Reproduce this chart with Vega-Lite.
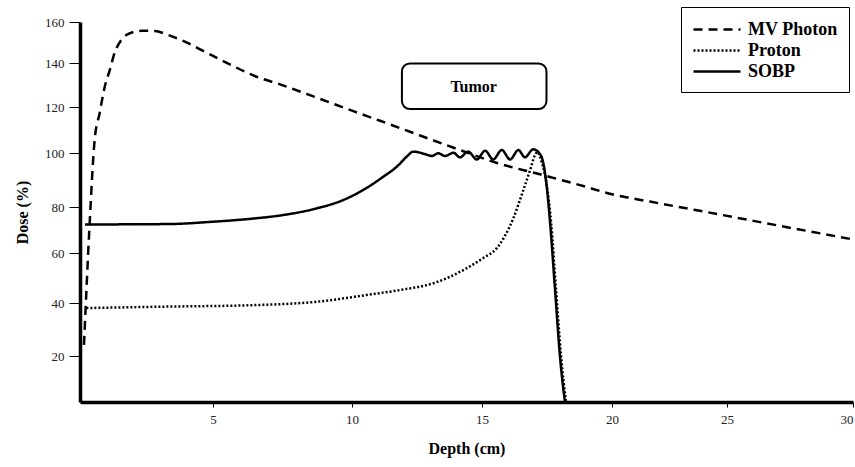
{
  "$schema": "https://vega.github.io/schema/vega-lite/v6.json",
  "width": 773,
  "height": 380,
  "autosize": "none",
  "padding": {"left": 80, "top": 22, "right": 2, "bottom": 65},
  "background": "white",
  "config": {
    "view": {"stroke": null},
    "font": "Liberation Serif",
    "axis": {
      "grid": false,
      "domainColor": "black",
      "domainWidth": 3.5,
      "tickColor": "black",
      "tickWidth": 1,
      "labelFont": "Liberation Serif",
      "labelFontSize": 13,
      "labelColor": "#222222",
      "titleFont": "Liberation Serif",
      "titleFontSize": 16,
      "titleFontWeight": "bold",
      "titleColor": "black"
    },
    "legend": {
      "orient": "none",
      "legendX": 601,
      "legendY": -15,
      "strokeColor": "black",
      "padding": 11,
      "symbolType": "M-1,0H3.7",
      "symbolSize": 400,
      "symbolStrokeWidth": 2.5,
      "symbolStrokeColor": "black",
      "symbolFillColor": "transparent",
      "labelOffset": 33,
      "rowPadding": 0,
      "labelFont": "Liberation Serif",
      "labelFontSize": 18,
      "labelFontWeight": "bold",
      "labelColor": "black",
      "title": null
    }
  },
  "datasets": {
    "curves": [
      {"series": "MV Photon", "depth": 0.15, "dose": 24.2},
      {"series": "MV Photon", "depth": 0.36, "dose": 72.2},
      {"series": "MV Photon", "depth": 0.55, "dose": 105.7},
      {"series": "MV Photon", "depth": 0.74, "dose": 117.4},
      {"series": "MV Photon", "depth": 0.93, "dose": 129.2},
      {"series": "MV Photon", "depth": 1.12, "dose": 136.8},
      {"series": "MV Photon", "depth": 1.3, "dose": 144.9},
      {"series": "MV Photon", "depth": 1.55, "dose": 151.2},
      {"series": "MV Photon", "depth": 1.8, "dose": 154.1},
      {"series": "MV Photon", "depth": 2.3, "dose": 155.7},
      {"series": "MV Photon", "depth": 2.81, "dose": 155.6},
      {"series": "MV Photon", "depth": 3.31, "dose": 153.7},
      {"series": "MV Photon", "depth": 3.94, "dose": 150.4},
      {"series": "MV Photon", "depth": 4.69, "dose": 145.5},
      {"series": "MV Photon", "depth": 5.42, "dose": 140.6},
      {"series": "MV Photon", "depth": 6.5, "dose": 134.1},
      {"series": "MV Photon", "depth": 7.41, "dose": 130.3},
      {"series": "MV Photon", "depth": 8.85, "dose": 123.7},
      {"series": "MV Photon", "depth": 10.0, "dose": 118.4},
      {"series": "MV Photon", "depth": 11.08, "dose": 114.0},
      {"series": "MV Photon", "depth": 12.62, "dose": 107.6},
      {"series": "MV Photon", "depth": 14.15, "dose": 101.3},
      {"series": "MV Photon", "depth": 15.58, "dose": 96.3},
      {"series": "MV Photon", "depth": 17.23, "dose": 92.1},
      {"series": "MV Photon", "depth": 18.77, "dose": 88.1},
      {"series": "MV Photon", "depth": 20.0, "dose": 84.7},
      {"series": "MV Photon", "depth": 21.65, "dose": 82.0},
      {"series": "MV Photon", "depth": 24.7, "dose": 76.7},
      {"series": "MV Photon", "depth": 27.1, "dose": 71.8},
      {"series": "MV Photon", "depth": 30, "dose": 65.9},

      {"series": "Proton", "depth": 0.24, "dose": 38.1},
      {"series": "Proton", "depth": 3.0, "dose": 38.6},
      {"series": "Proton", "depth": 6.5, "dose": 39.2},
      {"series": "Proton", "depth": 8.73, "dose": 40.5},
      {"series": "Proton", "depth": 10.56, "dose": 43.2},
      {"series": "Proton", "depth": 11.85, "dose": 45.2},
      {"series": "Proton", "depth": 13.13, "dose": 47.9},
      {"series": "Proton", "depth": 14.41, "dose": 53.9},
      {"series": "Proton", "depth": 15.05, "dose": 58.0},
      {"series": "Proton", "depth": 15.56, "dose": 62.0},
      {"series": "Proton", "depth": 16.2, "dose": 75.0},
      {"series": "Proton", "depth": 16.58, "dose": 86.0},
      {"series": "Proton", "depth": 16.85, "dose": 93.7},
      {"series": "Proton", "depth": 17.04, "dose": 99.3},
      {"series": "Proton", "depth": 17.13, "dose": 100.4},
      {"series": "Proton", "depth": 17.3, "dose": 96.5},
      {"series": "Proton", "depth": 17.5, "dose": 87.5},
      {"series": "Proton", "depth": 17.66, "dose": 73.0},
      {"series": "Proton", "depth": 17.85, "dose": 45.0},
      {"series": "Proton", "depth": 18.04, "dose": 20.0},
      {"series": "Proton", "depth": 18.23, "dose": 0},

      {"series": "SOBP", "depth": 0.19, "dose": 72.4},
      {"series": "SOBP", "depth": 3.38, "dose": 72.6},
      {"series": "SOBP", "depth": 5.0, "dose": 73.6},
      {"series": "SOBP", "depth": 6.3, "dose": 74.8},
      {"series": "SOBP", "depth": 7.52, "dose": 76.5},
      {"series": "SOBP", "depth": 8.73, "dose": 79.4},
      {"series": "SOBP", "depth": 9.69, "dose": 82.6},
      {"series": "SOBP", "depth": 10.43, "dose": 86.3},
      {"series": "SOBP", "depth": 11.2, "dose": 91.2},
      {"series": "SOBP", "depth": 11.72, "dose": 94.9},
      {"series": "SOBP", "depth": 12.1, "dose": 98.6},
      {"series": "SOBP", "depth": 12.36, "dose": 100.6},
      {"series": "SOBP", "depth": 12.81, "dose": 99.6},
      {"series": "SOBP", "depth": 13.07, "dose": 98.9},
      {"series": "SOBP", "depth": 13.32, "dose": 99.9},
      {"series": "SOBP", "depth": 13.58, "dose": 98.9},
      {"series": "SOBP", "depth": 13.9, "dose": 100.1},
      {"series": "SOBP", "depth": 14.15, "dose": 98.4},
      {"series": "SOBP", "depth": 14.47, "dose": 100.6},
      {"series": "SOBP", "depth": 14.8, "dose": 97.6},
      {"series": "SOBP", "depth": 15.12, "dose": 101.0},
      {"series": "SOBP", "depth": 15.43, "dose": 97.6},
      {"series": "SOBP", "depth": 15.76, "dose": 101.3},
      {"series": "SOBP", "depth": 16.08, "dose": 97.6},
      {"series": "SOBP", "depth": 16.4, "dose": 101.3},
      {"series": "SOBP", "depth": 16.65, "dose": 98.4},
      {"series": "SOBP", "depth": 16.97, "dose": 101.6},
      {"series": "SOBP", "depth": 17.23, "dose": 99.6},
      {"series": "SOBP", "depth": 17.36, "dose": 96.2},
      {"series": "SOBP", "depth": 17.49, "dose": 87.5},
      {"series": "SOBP", "depth": 17.62, "dose": 73.0},
      {"series": "SOBP", "depth": 17.81, "dose": 45.2},
      {"series": "SOBP", "depth": 18.0, "dose": 19.7},
      {"series": "SOBP", "depth": 18.19, "dose": 0}
    ],
    "tumor": [
      {"label": "Tumor", "depth": 11.92, "depthEnd": 17.48, "dose": 119.1, "doseEnd": 139.8, "labelDepth": 14.68, "labelDose": 129.0}
    ]
  },
  "layer": [
    {
      "data": {"name": "curves"},
      "mark": {"type": "line", "interpolate": "monotone", "color": "black", "strokeWidth": 2.5, "strokeCap": "butt"},
      "encoding": {
        "x": {
          "field": "depth",
          "type": "quantitative",
          "scale": {"domain": [0, 5, 10, 15, 20, 25, 30], "range": [0, 133, 272, 402, 532, 647, 773], "nice": false, "zero": false},
          "axis": {"title": "Depth (cm)", "values": [5, 10, 15, 20, 25, 30], "tickSize": 5, "labelPadding": 6, "titlePadding": 14}
        },
        "y": {
          "field": "dose",
          "type": "quantitative",
          "scale": {"domain": [0, 20, 40, 60, 80, 100, 120, 140, 160], "range": [380, 334, 281, 231, 185, 131, 85, 41, 0], "nice": false, "zero": false},
          "axis": {"title": "Dose (%)", "values": [20, 40, 60, 80, 100, 120, 140, 160], "tickSize": 11, "labelPadding": 5, "titlePadding": 14}
        },
        "strokeDash": {
          "field": "series",
          "type": "nominal",
          "scale": {"domain": ["MV Photon", "Proton", "SOBP"], "range": [[9, 6], [2, 2], [1, 0]]},
          "legend": {"title": null}
        }
      }
    },
    {
      "data": {"name": "tumor"},
      "mark": {"type": "rect", "cornerRadius": 8, "fill": "white", "stroke": "black", "strokeWidth": 2},
      "encoding": {
        "x": {"field": "depth", "type": "quantitative", "title": "Depth (cm)"},
        "x2": {"field": "depthEnd"},
        "y": {"field": "dose", "type": "quantitative", "title": "Dose (%)"},
        "y2": {"field": "doseEnd"}
      }
    },
    {
      "data": {"name": "tumor"},
      "mark": {"type": "text", "font": "Liberation Serif", "fontWeight": "bold", "fontSize": 16, "color": "black", "baseline": "middle", "align": "center"},
      "encoding": {
        "x": {"field": "labelDepth", "type": "quantitative", "title": "Depth (cm)"},
        "y": {"field": "labelDose", "type": "quantitative", "title": "Dose (%)"},
        "text": {"field": "label"}
      }
    }
  ]
}
